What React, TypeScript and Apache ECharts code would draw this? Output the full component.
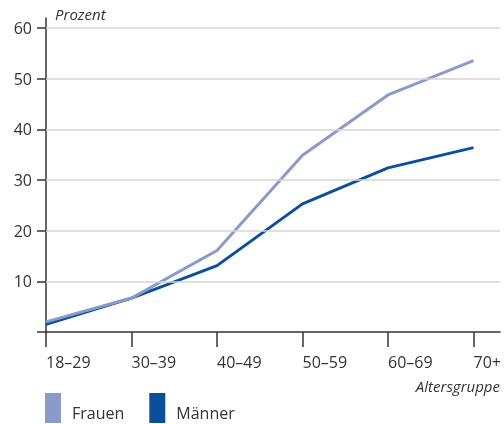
import React, { useEffect, useRef } from "react";
import * as echarts from "echarts";

const categories = ["18–29", "30–39", "40–49", "50–59", "60–69", "70+"];
const frauen = [2.0, 6.7, 16.1, 34.9, 46.8, 53.6];
const maenner = [1.5, 6.7, 13.1, 25.3, 32.4, 36.4];
const yTickLabels = [10, 20, 30, 40, 50, 60];
const yTicks = [0, 10, 20, 30, 40, 50, 60];
const xTicks = [0, 1, 2, 3, 4, 5];

const FONT = "'Open Sans', sans-serif";
const TEXT = "#333333";
const C_FRAUEN = "#8a9bcb";
const C_MAENNER = "#0b4f9c";

export default function App() {
  const ref = useRef<HTMLDivElement>(null);
  useEffect(() => {
    if (!ref.current) return;
    const chart = echarts.init(ref.current, undefined, { renderer: "svg" });
    const toPairs = (arr: number[]) => arr.map((v, i) => [i, v]);
    chart.setOption({
      animation: false,
      textStyle: { fontFamily: FONT },
      grid: { left: 46, right: 4, top: 18, bottom: 92 },
      xAxis: {
        type: "value",
        min: 0,
        max: 5.31,
        interval: 1,
        splitLine: { show: false },
        axisLine: { show: true, lineStyle: { color: "#333", width: 1.5 } },
        axisTick: {
          show: true,
          customValues: xTicks,
          length: 15,
          lineStyle: { color: "#333", width: 1.5 },
        },
        axisLabel: {
          customValues: xTicks,
          formatter: (v: number) => categories[Math.round(v)] ?? "",
          align: "left",
          margin: 22,
          fontSize: 16,
          color: TEXT,
          fontFamily: FONT,
        },
      },
      yAxis: {
        type: "value",
        min: 0,
        max: 62,
        interval: 10,
        splitLine: { show: false },
        axisLine: { show: true, lineStyle: { color: "#333", width: 1.5 } },
        axisTick: {
          show: true,
          customValues: yTicks,
          length: 9,
          lineStyle: { color: "#333", width: 1.5 },
        },
        axisLabel: {
          customValues: yTickLabels,
          margin: 14,
          fontSize: 16,
          color: TEXT,
          fontFamily: FONT,
        },
      },
      legend: {
        data: ["Frauen", "Männer"],
        left: 45,
        top: 393,
        padding: 0,
        icon: "rect",
        itemWidth: 16,
        itemHeight: 30,
        itemGap: 25,
        formatter: "{t|{name}}",
        textStyle: {
          fontSize: 16,
          color: TEXT,
          fontFamily: FONT,
          rich: {
            t: {
              fontSize: 16,
              lineHeight: 16,
              color: TEXT,
              fontFamily: FONT,
              padding: [10, 0, 0, 6],
            },
          },
        },
      },
      graphic: [
        {
          type: "text",
          left: 55,
          top: 6,
          style: {
            text: "Prozent",
            font: `italic 15px ${FONT}`,
            fill: TEXT,
          },
        },
        {
          type: "text",
          right: 4,
          top: 378,
          style: {
            text: "Altersgruppe",
            font: `italic 15px ${FONT}`,
            fill: TEXT,
          },
        },
      ],
      series: [
        {
          name: "grid",
          type: "line",
          z: 1,
          data: toPairs(frauen),
          symbol: "none",
          lineStyle: { opacity: 0, width: 0 },
          silent: true,
          markLine: {
            silent: true,
            symbol: ["none", "none"],
            label: { show: false },
            lineStyle: { color: "#d4d4d4", width: 1.5, type: "solid" },
            data: yTickLabels.map((v) => ({ yAxis: v })),
          },
        },
        {
          name: "Männer",
          type: "line",
          z: 3,
          data: toPairs(maenner),
          symbol: "none",
          color: C_MAENNER,
          lineStyle: { color: C_MAENNER, width: 3 },
        },
        {
          name: "Frauen",
          type: "line",
          z: 4,
          data: toPairs(frauen),
          symbol: "none",
          color: C_FRAUEN,
          lineStyle: { color: C_FRAUEN, width: 3 },
        },
      ],
    });
    return () => chart.dispose();
  }, []);
  return (
    <div
      ref={ref}
      style={{ position: "fixed", left: 0, top: 0, width: 504, height: 424 }}
    />
  );
}
